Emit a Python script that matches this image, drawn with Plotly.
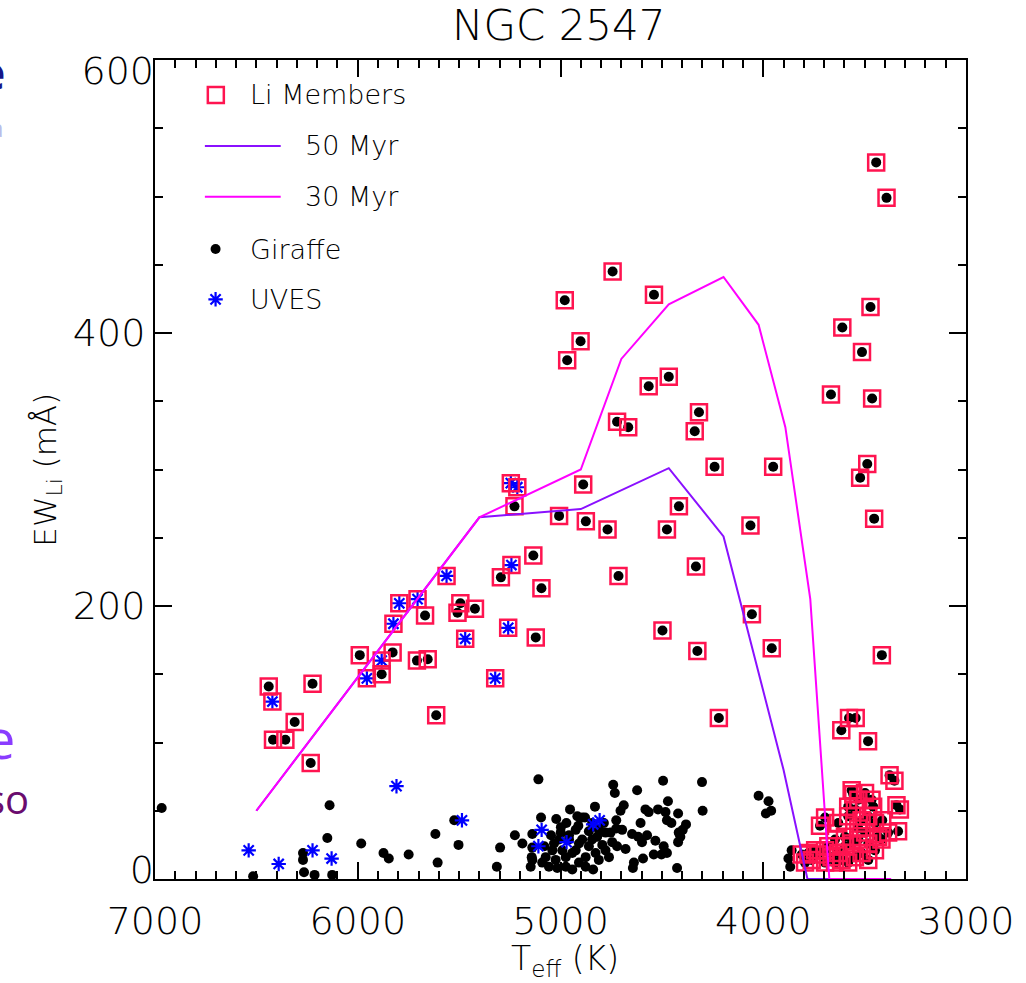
import plotly.graph_objects as go

# ---------------- data ----------------
# Li members observed with Giraffe (Teff [K], EW_Li [mA])
mem_gir_teff = [6439, 6223, 6311, 6418, 6357, 6232, 5882, 5613, 5227, 5007, 5134, 5294, 5094, 5668,
                5494, 5508, 5422, 5122, 5990, 5828, 5708, 5655,
                4743, 4979, 4539, 4901, 4967, 4565, 4466, 4317, 4338, 4721, 4666, 4240, 3951, 4888,
                4875, 4768, 4475, 4416, 4063, 4332, 4714, 4056, 4497, 4325, 3958, 4219,
                3443, 3392, 3471, 3610, 3513, 3666, 3463, 3487, 3522, 3453, 3415, 3615, 3577, 3544,
                3483, 3377, 3353,
                3564, 3556, 3466, 3458, 3343, 3326, 3413, 3335, 3695, 3720, 3548, 3581, 3515, 3482,
                3449, 3531, 3498, 3433, 3597, 3646, 3679, 3777, 3761, 3728, 3695, 3663, 3630, 3597,
                3564, 3531, 3482, 3449, 3417, 3384, 3614, 3581, 3548, 3515, 3482, 3646, 3695, 3744,
                3810, 3794, 3630, 3581, 3531, 3498]
mem_gir_ew = [141, 143, 115, 102, 102, 85, 150, 120, 273, 266, 237, 221, 213, 193,
              202, 195, 198, 177, 164, 166, 160, 161,
              445, 424, 428, 394, 380, 361, 368, 342, 328, 335, 331, 302, 302, 289,
              262, 256, 256, 273, 259, 229, 222, 194, 182, 167, 169, 118,
              525, 499, 419, 404, 386, 355, 352, 304, 294, 264, 164, 109, 118, 118,
              101, 76, 72,
              65, 62, 58, 53, 54, 51, 43, 35, 45, 39, 51, 46, 43, 46,
              41, 37, 34, 31, 31, 29, 24, 19, 14, 18, 21, 16, 19, 24,
              26, 29, 26, 21, 29, 34, 14, 12, 16, 19, 14, 12, 12, 21,
              18, 12, 41, 53, 58, 63]

# Li members observed with UVES
mem_uves_teff = [6421, 5955, 5322, 5245, 5213, 5242, 5562, 5795, 5705, 5824, 5258, 5470, 5882]
mem_uves_ew = [130, 147, 147, 290, 287, 230, 222, 202, 205, 187, 184, 176, 160]

# Non-member UVES stars
uves_teff = [6538, 6390, 6223, 6129, 5809, 5486, 5093, 5109, 4970, 4839, 4807]
uves_ew = [21, 11, 21, 15, 68, 43, 36, 24, 27, 40, 43]

# Non-member Giraffe stars
gir_teff = [6967, 6516, 6270, 6270, 6265, 6213, 6150, 6139, 6126, 5983, 5873, 5847, 5749, 5617,
            5606, 5524, 5503, 5298, 5314, 5225, 5188, 5139, 5109, 5096, 5139, 5147,
            4494, 4302, 4023, 4740, 4732, 4622, 4470, 4688, 4704, 4299, 4581, 4565, 4519, 4482,
            4420, 4830, 4953, 5021, 4917, 4879, 4725, 4605, 4475, 4453, 4381, 4397, 4417, 4409,
            4420, 5139, 5142, 5080, 5047, 4998, 4971, 4912, 4860, 4819, 4794, 4761, 4725, 4696,
            4647, 4617, 4598, 4573, 4532, 4491, 4475, 4502, 4540, 4593, 4638, 4643, 4425, 4839,
            4721, 4679, 4745, 4778, 4844, 4893, 4925, 4958, 4991, 5024, 5057, 4974, 4909, 4876,
            4942, 5007, 5040, 4909, 4860, 4827, 5073, 5090, 5016, 4942, 4876, 4974, 4925, 5032,
            4999, 4958, 4893, 4844, 4811, 4786, 4753, 4778, 4811,
            3974, 3987, 3961, 3876, 3867, 3860]
gir_ew = [52, 2, 19, 14, 5, 3, 30, 54, 3, 26, 19, 15, 18, 33,
          12, 43, 25, 23, 9, 32, 26, 33, 73, 45, 14, 9,
          72, 71, 61, 69, 63, 65, 57, 54, 50, 50, 51, 49, 51, 49,
          48, 53, 51, 44, 46, 45, 43, 41, 43, 41, 40, 36, 34, 31,
          27, 23, 16, 24, 32, 38, 41, 39, 35, 31, 25, 16, 37, 36,
          33, 31, 27, 32, 28, 24, 19, 18, 18, 15, 12, 8, 8, 7,
          24, 22, 27, 34, 41, 45, 36, 29, 21, 14, 9, 9, 12, 16,
          19, 29, 21, 26, 24, 19, 16, 12, 8, 7, 9, 16, 21, 26,
          34, 32, 29, 29, 36, 41, 34, 21, 14,
          57, 48, 50, 15, 9, 21]

# Model curves
myr50_teff = [6500, 5400, 4900, 4466, 4196, 3900, 3782, 3669]
myr50_ew = [50, 265, 271, 301, 251, 80, 0, 0]
myr30_teff = [6500, 5400, 4900, 4700, 4466, 4196, 4023, 3891, 3768, 3674, 3369]
myr30_ew = [50, 265, 300, 381, 421, 441, 406, 331, 205, 0, 0]

x_ticks = [7000, 6000, 5000, 4000, 3000]
y_ticks = [0, 200, 400, 600]
legend_labels = ["Li Members", "50 Myr", "30 Myr", "Giraffe", "UVES"]

RED = "#ff1450"
PURPLE = "#8a10ff"
MAGENTA = "#ff00ff"
BLUE = "#0000ff"
FONT = "DejaVu Sans"
FW = 200

fig = go.Figure()

fig.add_trace(go.Scatter(x=gir_teff, y=gir_ew, mode="markers",
                         marker=dict(symbol="circle", size=10, color="black"),
                         showlegend=False))
fig.add_trace(go.Scatter(x=mem_gir_teff, y=mem_gir_ew, mode="markers",
                         marker=dict(symbol="circle", size=10, color="black"),
                         showlegend=False))
fig.add_trace(go.Scatter(x=uves_teff + mem_uves_teff, y=uves_ew + mem_uves_ew, mode="markers",
                         marker=dict(symbol="asterisk-open", size=12, color=BLUE,
                                     line=dict(color=BLUE, width=2.2)),
                         showlegend=False))
fig.add_trace(go.Scatter(x=mem_gir_teff + mem_uves_teff, y=mem_gir_ew + mem_uves_ew, mode="markers",
                         marker=dict(symbol="square-open", size=16, color=RED,
                                     line=dict(color=RED, width=2.5)),
                         showlegend=False))
fig.add_trace(go.Scatter(x=myr50_teff, y=myr50_ew, mode="lines",
                         line=dict(color=PURPLE, width=2), showlegend=False))
fig.add_trace(go.Scatter(x=myr30_teff, y=myr30_ew, mode="lines",
                         line=dict(color=MAGENTA, width=2), showlegend=False))

# empty traces so the label-only overlay y axes get drawn
fig.add_trace(go.Scatter(x=[], y=[], xaxis="x", yaxis="y3", showlegend=False))
fig.add_trace(go.Scatter(x=[], y=[], xaxis="x", yaxis="y4", showlegend=False))

# ---- manual legend on an overlay unit axis ----
fig.add_trace(go.Scatter(x=[0.075], y=[0.9573], mode="markers", xaxis="x2", yaxis="y2",
                         marker=dict(symbol="square-open", size=16, color=RED,
                                     line=dict(color=RED, width=2.5)), showlegend=False))
fig.add_trace(go.Scatter(x=[0.0615, 0.155], y=[0.895, 0.895], mode="lines", xaxis="x2", yaxis="y2",
                         line=dict(color=PURPLE, width=2), showlegend=False))
fig.add_trace(go.Scatter(x=[0.0615, 0.155], y=[0.8331, 0.8331], mode="lines", xaxis="x2", yaxis="y2",
                         line=dict(color=MAGENTA, width=2), showlegend=False))
fig.add_trace(go.Scatter(x=[0.0747], y=[0.7692], mode="markers", xaxis="x2", yaxis="y2",
                         marker=dict(symbol="circle", size=10, color="black"), showlegend=False))
fig.add_trace(go.Scatter(x=[0.0747], y=[0.7078], mode="markers", xaxis="x2", yaxis="y2",
                         marker=dict(symbol="asterisk-open", size=12, color=BLUE,
                                     line=dict(color=BLUE, width=2.2)), showlegend=False))

leg_x = [0.1144, 0.182, 0.182, 0.1144, 0.1144]
leg_y = [0.9573, 0.895, 0.8331, 0.7692, 0.7078]
annotations = []
for lab, lx, ly in zip(legend_labels, leg_x, leg_y):
    annotations.append(dict(text=lab, x=lx, y=ly, xref="paper", yref="paper",
                            xanchor="left", yanchor="middle", showarrow=False,
                            font=dict(family=FONT, size=27, color="black", weight=FW)))

annotations += [
    dict(text="NGC 2547", x=0.4985, y=1.042, xref="paper", yref="paper", xanchor="center",
         yanchor="middle", showarrow=False,
         font=dict(family=FONT, size=42, color="black", weight=FW)),
    dict(text="T<sub>eff</sub> (K)", x=0.505, y=-0.1, xref="paper", yref="paper",
         xanchor="center", yanchor="middle", showarrow=False,
         font=dict(family=FONT, size=33, color="black", weight=FW)),
    dict(text="EW<sub>Li</sub> (mÅ)", x=-0.133, y=0.5, xref="paper", yref="paper",
         xanchor="center", yanchor="middle", textangle=-90, showarrow=False,
         font=dict(family=FONT, size=31, color="black", weight=FW)),
    # fragments of neighbouring slide text cut off at the left edge
    dict(text="e", x=(7 - 155) / 813, y=(879 - 72) / 819, xref="paper", yref="paper",
         xanchor="right", yanchor="middle", showarrow=False,
         font=dict(family="Noto Sans", size=46, color="#16168a", weight="bold")),
    dict(text="a", x=(5 - 155) / 813, y=(879 - 127) / 819, xref="paper", yref="paper",
         xanchor="right", yanchor="middle", showarrow=False,
         font=dict(family="Noto Sans", size=24, color="#b9bde9")),
    dict(text="e", x=(17 - 155) / 813, y=(879 - 738) / 819, xref="paper", yref="paper",
         xanchor="right", yanchor="middle", showarrow=False,
         font=dict(family="Open Sans", size=54, color="#8a3cff")),
    dict(text="so", x=(31 - 155) / 813, y=(879 - 798) / 819, xref="paper", yref="paper",
         xanchor="right", yanchor="middle", showarrow=False,
         font=dict(family="Open Sans", size=40, color="#6a0c6e")),
]

tickfont = dict(family=FONT, size=38, color="black", weight=FW)
axis_common = dict(
    ticks="inside", ticklen=17, tickwidth=1.5, tickcolor="black",
    showline=True, linewidth=2, linecolor="black", mirror="ticks",
    showgrid=False, zeroline=False, tickfont=tickfont,
)
# overlay axes used only to nudge the end labels of the y axis as in the original
label_axis = dict(overlaying="y", anchor="x", range=[0, 600], side="left", showline=False,
                  showgrid=False, zeroline=False, ticks="inside", ticklen=17,
                  tickcolor="rgba(0,0,0,0)", tickfont=tickfont, fixedrange=True)

fig.update_layout(
    width=1026, height=983,
    margin=dict(l=155, r=58, t=60, b=104),
    paper_bgcolor="white", plot_bgcolor="white",
    xaxis=dict(range=[7000, 3000], tickvals=x_ticks, ticklabelstandoff=7,
               minor=dict(dtick=100, ticks="inside", ticklen=8, tickwidth=1.5, tickcolor="black"),
               **axis_common),
    yaxis=dict(range=[0, 600], tickvals=y_ticks,
               ticktext=["", str(y_ticks[1]), str(y_ticks[2]), ""],
               minor=dict(dtick=50, ticks="inside", ticklen=8, tickwidth=1.5, tickcolor="black"),
               **axis_common),
    yaxis3=dict(tickvals=[y_ticks[0]], ticktext=[str(y_ticks[0])], ticklabelshift=-9, **label_axis),
    yaxis4=dict(tickvals=[y_ticks[-1]], ticktext=[str(y_ticks[-1])], ticklabelshift=11, **label_axis),
    xaxis2=dict(overlaying="x", range=[0, 1], visible=False, fixedrange=True),
    yaxis2=dict(overlaying="y", range=[0, 1], visible=False, fixedrange=True),
    annotations=annotations,
    showlegend=False,
)

fig.write_html("out.html")
